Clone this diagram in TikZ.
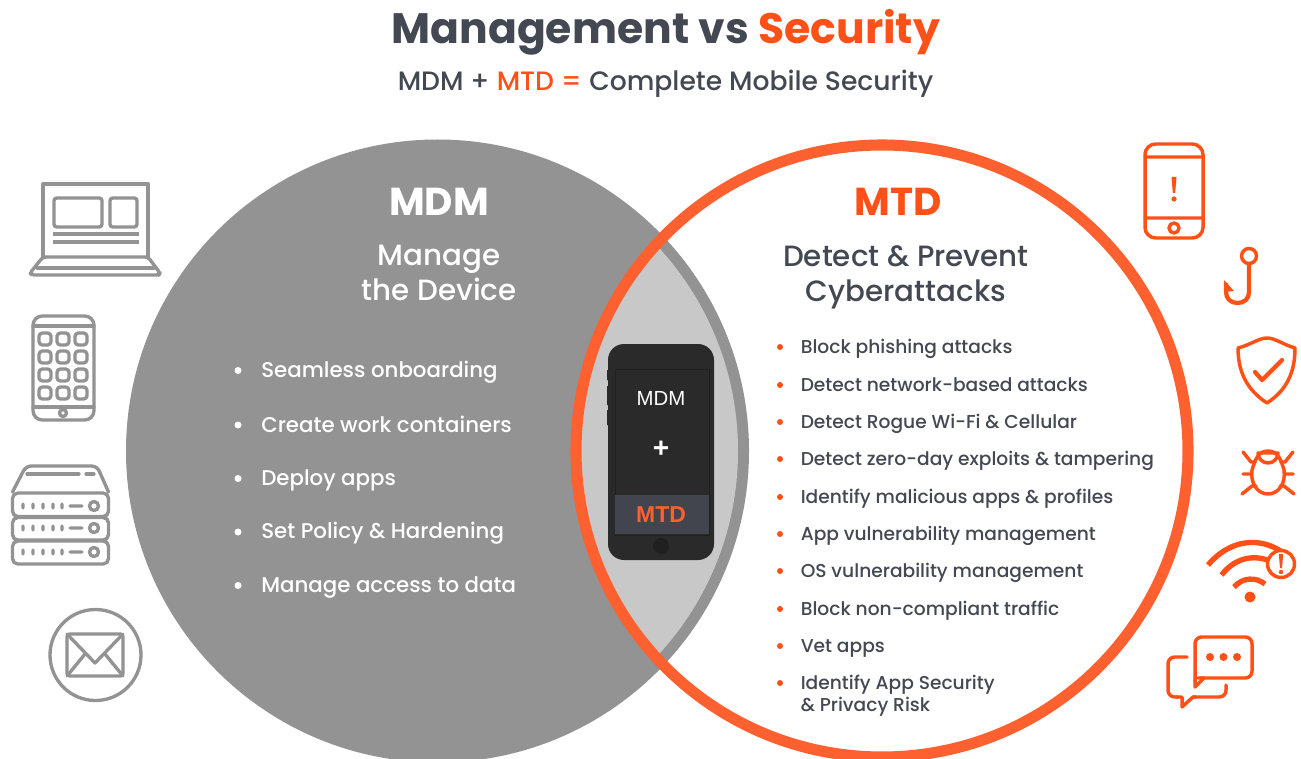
\documentclass[tikz,border=0pt]{standalone}
\usepackage{fontspec}
\setmainfont{Poppins}
\newfontfamily\popmed{Poppins Medium}
\newfontfamily\popbold{Poppins Bold}
\newfontfamily\helv{Liberation Sans}

\definecolor{mdmgray}{HTML}{939393}
\definecolor{lensgray}{HTML}{C8C8C8}
\definecolor{icongray}{HTML}{939393}
\definecolor{ringorange}{HTML}{FF6030}
\definecolor{iconorange}{HTML}{FF5017}
\definecolor{inkdark}{HTML}{434852}
\definecolor{phoneblack}{HTML}{2A2A2A}
\definecolor{phonehome}{HTML}{202020}
\definecolor{phoneband}{HTML}{42454E}

\tikzset{
  titletext/.style={anchor=base, inner sep=0pt, font=\popbold\fontsize{31.9}{31.9}\selectfont},
  subtext/.style={anchor=base, inner sep=0pt, text=inkdark, font=\popmed\fontsize{19.95}{19.95}\selectfont},
  bighead/.style={anchor=base, inner sep=0pt, font=\popbold\fontsize{29.2}{29.2}\selectfont},
  subhead/.style={anchor=base, inner sep=0pt, font=\popmed\fontsize{22}{22}\selectfont},
  leftitem/.style={anchor=base west, inner sep=0pt, text=white, font=\popmed\fontsize{16}{16}\selectfont},
  rightitem/.style={anchor=base west, inner sep=0pt, text=inkdark, font=\popmed\fontsize{13.98}{13.98}\selectfont},
  grayicon/.style={draw=icongray, line width=2.5pt, line join=round, line cap=round},
  orangeicon/.style={draw=iconorange, line width=2.6pt, line join=round, line cap=round},
}

\begin{document}
\begin{tikzpicture}[x=0.75pt,y=-0.75pt]
  \clip (0,0) rectangle (1301,759);
  \fill[white] (0,0) rectangle (1301,759);

  % the two circles and their overlap
  \fill[mdmgray] (437.5,451) circle (311.5);
  \fill[white] (882,451) circle (306);
  \begin{scope}
    \clip (882,451) circle (306);
    \fill[mdmgray] (437.5,451) circle (311.5);
    \fill[lensgray] (437.5,451) circle (300.5);
  \end{scope}
  \draw[ringorange, line width=8.3pt] (882,451) circle (306);

  % title
  \node[titletext, text=inkdark, anchor=base east] (titleleft) at (749,44) {Management vs};
  \node[titletext, text=iconorange, anchor=base west] (titleright) at (758,44) {Security};
  \node[subtext, anchor=base west] (subleft) at (397.5,90.5) {MDM +};
  \node[subtext, text=iconorange, anchor=base west] (submid) at (496.5,90.5) {MTD =};
  \node[subtext, anchor=base west] (subright) at (589,90.5) {Complete Mobile Security};

  % left circle
  \node[bighead, text=white] (mdmhead) at (439,216) {MDM};
  \node[subhead, text=white] (manageone) at (439,265) {Manage};
  \node[subhead, text=white] (managetwo) at (439,300) {the Device};
  \fill[white] (238,370.5) circle (3.5) (238,425) circle (3.5) (238,478.5) circle (3.5)
    (238,532) circle (3.5) (238,585.5) circle (3.5);
  \node[leftitem] (onboard) at (261,377.5) {Seamless onboarding};
  \node[leftitem] (containers) at (261,432) {Create work containers};
  \node[leftitem] (deploy) at (261,485) {Deploy apps};
  \node[leftitem] (policy) at (261,538.5) {Set Policy \& Hardening};
  \node[leftitem] (access) at (261,592) {Manage access to data};

  % right circle
  \node[bighead, text=iconorange] (mtdhead) at (898,216) {MTD};
  \node[subhead, text=inkdark] (detectone) at (906,266) {Detect \& Prevent};
  \node[subhead, text=inkdark] (detecttwo) at (906,301) {Cyberattacks};
  \fill[iconorange] (780,347) circle (3) (780,385) circle (3) (780,422) circle (3)
    (780,459) circle (3) (780,497) circle (3) (780,534) circle (3) (780,571) circle (3)
    (780,609) circle (3) (780,646) circle (3) (780,683) circle (3);
  \node[rightitem] (phishing) at (800.5,353) {Block phishing attacks};
  \node[rightitem] (network) at (800.5,391) {Detect network-based attacks};
  \node[rightitem] (rogue) at (800.5,428) {Detect Rogue Wi-Fi \& Cellular};
  \node[rightitem] (zeroday) at (800.5,465) {Detect zero-day exploits \& tampering};
  \node[rightitem] (malicious) at (800.5,503) {Identify malicious apps \& profiles};
  \node[rightitem] (appvuln) at (800.5,540) {App vulnerability management};
  \node[rightitem] (osvuln) at (800.5,577) {OS vulnerability management};
  \node[rightitem] (traffic) at (800.5,615) {Block non-compliant traffic};
  \node[rightitem] (vet) at (800.5,652) {Vet apps};
  \node[rightitem] (appsec) at (800.5,689) {Identify App Security};
  \node[rightitem] (privacy) at (800.5,711) {\& Privacy Risk};

  % phone in the overlap
  \fill[phoneblack, rounded corners=12pt] (608,344) rectangle (714,560);
  \fill[phoneblack] (607,370) rectangle (609,380) (607,386) rectangle (609,405) (607,410) rectangle (609,425);
  \draw[phonehome, line width=0.6pt] (615,369) rectangle (709,535);
  \fill[phoneband] (615,495) rectangle (708.5,534);
  \fill[phonehome] (661,546) circle (8);
  \node[inner sep=0pt, text=white, font=\helv\fontsize{15.3}{15.3}\selectfont] (phonemdm) at (661,398) {MDM};
  \node[inner sep=0pt, text=white, font=\helv\bfseries\fontsize{21}{21}\selectfont] (phoneplus) at (661,449.5) {+};
  \node[inner sep=0pt, text=ringorange, font=\helv\bfseries\fontsize{17.2}{17.2}\selectfont] (phonemtd) at (661,514.5) {MTD};

  % left icons
  \draw[grayicon] (43,257) -- (43,184) -- (148,184) -- (148,257);
  \draw[grayicon, rounded corners=2pt] (54,198) rectangle (102,227) (110,198) rectangle (137,227);
  \draw[grayicon, line cap=butt] (53,234) -- (139,234) (53,242) -- (139,242);
  \draw[grayicon, rounded corners=2pt] (43,257) -- (148,257) -- (160,273) -- (159,275) -- (32,275) -- (30,273) -- cycle;
  \draw[grayicon] (37,268) -- (154,268);

  \draw[grayicon, rounded corners=7pt] (33,316) rectangle (94,420);
  \draw[grayicon] (33,326) -- (94,326) (33,407) -- (94,407);
  \draw[grayicon, rounded corners=2.5pt]
    (39,333) rectangle (51,345) (57,333) rectangle (69,345) (75,333) rectangle (87,345)
    (39,351) rectangle (51,363) (57,351) rectangle (69,363) (75,351) rectangle (87,363)
    (39,369) rectangle (51,381) (57,369) rectangle (69,381) (75,369) rectangle (87,381)
    (39,387) rectangle (51,399) (57,387) rectangle (69,399) (75,387) rectangle (87,399);
  \draw[grayicon] (63,413) circle (3.5);

  \draw[grayicon, rounded corners=4pt] (12.5,492) -- (26,466) -- (97,466) -- (108.5,492);
  \draw[grayicon, rounded corners=4pt] (12.5,493) rectangle (108.5,516.5) (12.5,517.5) rectangle (108.5,540) (12.5,541) rectangle (108.5,564);
  \draw[grayicon] (27,474) -- (79,474) (86,474) -- (94,474);
  \foreach \rowy in {506,528,552} {
    \draw[grayicon] (23,\rowy-2) -- +(0,4) (33,\rowy-2) -- +(0,4) (43,\rowy-2) -- +(0,4)
      (53,\rowy-2) -- +(0,4) (62,\rowy-2) -- +(0,4) (70,\rowy) -- (82,\rowy) (94,\rowy) circle (4.5);
  }

  \draw[grayicon] (95.5,655) circle (45.5);
  \draw[grayicon, rounded corners=2pt] (67,634) rectangle (123,676);
  \draw[grayicon] (67,634) -- (95,663) -- (123,634) (67,676) -- (85,654) (123,676) -- (105,654);

  % right icons
  \draw[orangeicon, rounded corners=8pt] (1145,144) rectangle (1203,238);
  \draw[orangeicon] (1145,157) -- (1203,157) (1145,218) -- (1203,218) (1174,228) circle (5);
  \fill[iconorange] (1171.5,177) -- (1176.5,177) -- (1175.2,193) -- (1172.8,193) -- cycle (1174,199) circle (2.6);

  \draw[orangeicon] (1249,256) circle (7.5);
  \draw[orangeicon, line cap=butt, line width=3.2pt] (1249,264) -- (1249,292) .. controls (1249,299) and (1244,303) .. (1237.5,303)
    .. controls (1231,303) and (1226,299) .. (1226,292) -- (1226,283);
  \fill[iconorange] (1224,280) -- (1234,291) -- (1225,292) -- cycle;

  \draw[orangeicon] (1238,348) .. controls (1250,345) and (1259,338) .. (1267,338)
    .. controls (1275,338) and (1284,345) .. (1295,348)
    .. controls (1295,372) and (1287,390) .. (1267,403)
    .. controls (1247,390) and (1238,372) .. (1238,348) -- cycle;
  \draw[orangeicon, line width=3.2pt] (1255,372) -- (1262,380) -- (1282,360);

  \draw[orangeicon] (1268,451) .. controls (1258,451) and (1255,460) .. (1252,470)
    .. controls (1250,484) and (1258,494) .. (1268,494)
    .. controls (1278,494) and (1286,484) .. (1284,470)
    .. controls (1281,460) and (1278,451) .. (1268,451) -- cycle;
  \draw[orangeicon] (1258,453) arc[start angle=180, end angle=0, radius=10] -- cycle;
  \draw[orangeicon] (1243,452) -- (1251,462) -- (1255,462) (1293,452) -- (1285,462) -- (1281,462)
    (1243,474) -- (1251,474) (1285,474) -- (1293,474)
    (1242,494) -- (1252,486) -- (1256,486) (1294,494) -- (1284,486) -- (1280,486);

  \fill[iconorange] (1250,597) circle (5.5);
  \draw[orangeicon, line width=4pt, line cap=butt] (1208,565) .. controls (1232,537) and (1262,538) .. (1282,552)
    (1221.5,575) .. controls (1237,555) and (1258,555) .. (1272,562)
    (1234,587) .. controls (1243,577) and (1256,577) .. (1265,584);
  \draw[orangeicon, fill=white] (1281,564) circle (13.5);
  \fill[iconorange] (1278.8,554) -- (1283.2,554) -- (1282,568) -- (1280,568) -- cycle (1281,572) circle (2.2);

  \draw[orangeicon, rounded corners=5pt] (1198,678) -- (1252,678) -- (1252,637) -- (1195,637) -- (1195,682);
  \draw[orangeicon] (1195,680) -- (1195,687) -- (1204,678) -- (1200,678);
  \fill[iconorange] (1210,657) circle (4) (1223.5,657) circle (4) (1237,657) circle (4);
  \draw[orangeicon, rounded corners=5pt] (1187,657) -- (1168,657) -- (1168,697) -- (1178,697);
  \draw[orangeicon] (1176,697) -- (1182,697) -- (1182,707) -- (1193,697) -- (1196,697);
  \draw[orangeicon, rounded corners=5pt] (1193,697) -- (1226,697) -- (1226,685);
\end{tikzpicture}
\end{document}
